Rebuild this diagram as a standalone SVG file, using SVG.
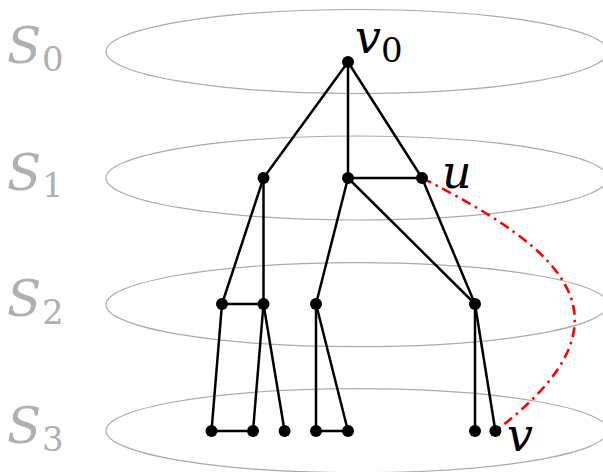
<svg xmlns="http://www.w3.org/2000/svg" width="603" height="472" viewBox="0 0 603 472">
<style>
.layer{fill:none;stroke:#aaaaaa;stroke-width:1.2}
text{font-family:'DejaVu Serif',serif}
.lbl{fill:#b0b0b0}
.txt{fill:#000}
.big{font-style:italic;font-size:50px}
.it{font-style:italic;font-size:46px}
.sub{font-size:34px}
.e{stroke:#000;stroke-width:2.5;fill:none;stroke-linecap:round}
.n{fill:#000}
.red{fill:none;stroke:#ff0000;stroke-width:2.6;stroke-dasharray:10 5 2.5 5}
</style>
<g id="layers">
<ellipse class="layer" cx="357" cy="51.5" rx="251" ry="42"/>
<ellipse class="layer" cx="357" cy="178" rx="251" ry="42"/>
<ellipse class="layer" cx="357" cy="304.7" rx="251" ry="42"/>
<ellipse class="layer" cx="357" cy="430.7" rx="251" ry="42"/>
</g>
<g id="layer-labels">
<text class="lbl big" x="7" y="63">S</text><text class="lbl sub" x="42" y="70.7">0</text>
<text class="lbl big" x="7" y="189.7">S</text><text class="lbl sub" x="42" y="197.4">1</text>
<text class="lbl big" x="7" y="316.4">S</text><text class="lbl sub" x="42" y="324.1">2</text>
<text class="lbl big" x="7" y="443">S</text><text class="lbl sub" x="42" y="450.7">3</text>
</g>
<g id="connectors">
<path class="red" d="M422,178 C565,250.5 643,319 495.4,431"/>
<line class="e" x1="348" y1="62" x2="263.5" y2="178"/>
<line class="e" x1="348" y1="62" x2="348" y2="178"/>
<line class="e" x1="348" y1="62" x2="422" y2="178"/>
<line class="e" x1="348" y1="178" x2="422" y2="178"/>
<line class="e" x1="263.5" y1="178" x2="222" y2="304"/>
<line class="e" x1="263.5" y1="178" x2="263.5" y2="304"/>
<line class="e" x1="348" y1="178" x2="316" y2="304"/>
<line class="e" x1="348" y1="178" x2="475" y2="304"/>
<line class="e" x1="422" y1="178" x2="475" y2="304"/>
<line class="e" x1="222" y1="304" x2="263.5" y2="304"/>
<line class="e" x1="222" y1="304" x2="211.5" y2="431"/>
<line class="e" x1="263.5" y1="304" x2="253" y2="431"/>
<line class="e" x1="263.5" y1="304" x2="284.6" y2="431"/>
<line class="e" x1="211.5" y1="431" x2="253" y2="431"/>
<line class="e" x1="316" y1="304" x2="316" y2="431"/>
<line class="e" x1="316" y1="304" x2="348" y2="431"/>
<line class="e" x1="316" y1="431" x2="348" y2="431"/>
<line class="e" x1="475" y1="304" x2="475" y2="431"/>
<line class="e" x1="475" y1="304" x2="495.4" y2="431"/>
</g>
<g id="v0"><circle class="n" cx="348" cy="62" r="6"/><text class="txt it" x="355" y="53">v</text><text class="txt sub" x="381" y="61.7">0</text></g>
<g id="a1"><circle class="n" cx="263.5" cy="178" r="6"/></g>
<g id="a2"><circle class="n" cx="348" cy="178" r="6"/></g>
<g id="u"><circle class="n" cx="422" cy="178" r="6"/><text class="txt it" x="442" y="188">u</text></g>
<g id="b1"><circle class="n" cx="222" cy="304" r="6"/></g>
<g id="b2"><circle class="n" cx="263.5" cy="304" r="6"/></g>
<g id="b3"><circle class="n" cx="316" cy="304" r="6"/></g>
<g id="b4"><circle class="n" cx="475" cy="304" r="6"/></g>
<g id="c1"><circle class="n" cx="211.5" cy="431" r="6"/></g>
<g id="c2"><circle class="n" cx="253" cy="431" r="6"/></g>
<g id="c3"><circle class="n" cx="284.6" cy="431" r="6"/></g>
<g id="c4"><circle class="n" cx="316" cy="431" r="6"/></g>
<g id="c5"><circle class="n" cx="348" cy="431" r="6"/></g>
<g id="c6"><circle class="n" cx="475" cy="431" r="6"/></g>
<g id="v"><circle class="n" cx="495.4" cy="431" r="6"/><text class="txt it" x="507" y="451">v</text></g>
</svg>
